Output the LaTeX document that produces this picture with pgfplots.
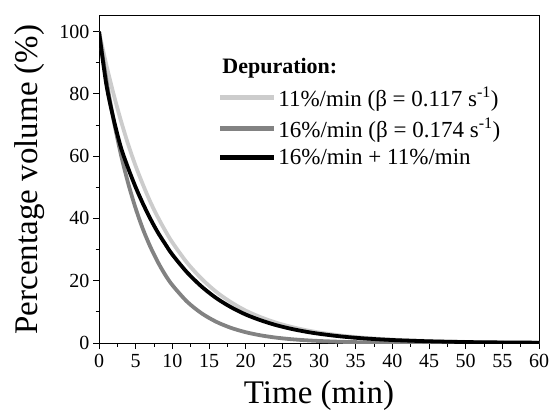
\documentclass[border=0pt]{standalone}
\usepackage{fontspec}
\setmainfont{Liberation Serif}
\usepackage{pgfplots}
\pgfplotsset{compat=1.18}
\definecolor{lightg}{RGB}{204,204,204}
\definecolor{darkg}{RGB}{130,130,130}

\begin{document}
\begin{tikzpicture}
\begin{axis}[
  name=ax,
  scale only axis,
  width=440pt, height=327pt,
  xmin=0, xmax=60, ymin=0, ymax=105,
  xtick={0,5,...,60},
  ytick={0,20,...,100},
  minor x tick num=1,
  minor y tick num=1,
  tick align=outside,
  xtick pos=bottom, ytick pos=left,
  major tick length=6pt, minor tick length=3.5pt,
  every tick/.style={black, line width=0.8pt},
  axis line style={line width=1pt},
  ticklabel style={font=\fontsize{20}{22}\selectfont},
  xticklabel style={yshift=-2pt},
  /pgf/number format/assume math mode=true,
  xlabel={Time (min)},
  ylabel={Percentage volume (\%)},
  label style={font=\fontsize{33}{36}\selectfont},
  xlabel style={yshift=-6pt},
  ylabel style={yshift=8pt},
  legend style={draw=none, fill=none, at={(rel axis cs:0.270,0.790)}, anchor=north west,
    font=\fontsize{23}{25}\selectfont, row sep=6pt, inner sep=0pt},
  legend cell align=left,
  legend image code/.code={\draw[#1, line width=4.4pt] (0pt,0pt) -- (54pt,0pt);},
]
% 11%/min
\addplot[lightg, line width=3.8pt, smooth] coordinates {
(0,100) (1,89.3) (2,79.8) (3,71.3) (4,63.6) (5,56.8) (6,50.8) (7,45.3) (8,40.5) (9,36.2)
(10,32.3) (12,25.8) (14,20.6) (16,16.4) (18,13.1) (20,10.4) (22,8.33) (24,6.64) (26,5.30)
(28,4.23) (30,3.37) (33,2.40) (36,1.71) (40,1.09) (45,0.62) (50,0.35) (55,0.20) (60,0.11)
};
\addlegendentry{11\%/min (β = 0.117 s\textsuperscript{-1})}
% 16%/min
\addplot[darkg, line width=3.8pt, smooth] coordinates {
(0,100) (1,84.5) (2,71.5) (3,60.4) (4,51.1) (5,43.2) (6,36.5) (7,30.9) (8,26.1) (9,22.0)
(10,18.6) (12,13.3) (14,9.52) (16,6.80) (18,4.86) (20,3.47) (22,2.48) (24,1.77) (26,1.27)
(28,0.91) (30,0.65) (33,0.39) (36,0.24) (40,0.12) (45,0.05) (50,0.02) (55,0.01) (60,0.0)
};
\addlegendentry{16\%/min (β = 0.174 s\textsuperscript{-1})}
% 16%/min + 11%/min
\addplot[black, line width=3.8pt, smooth] coordinates {
(0,100) (1,83.0) (2,71.8) (3,62.7) (4,56.0) (5,50.0) (6,44.7) (7,39.9) (8,35.6) (9,31.9)
(10,28.4) (12,22.7) (14,18.1) (16,14.4) (18,11.5) (20,9.15) (22,7.33) (24,5.84) (26,4.66)
(28,3.72) (30,2.97) (33,2.11) (36,1.50) (40,0.96) (45,0.55) (50,0.31) (55,0.18) (60,0.10)
};
\addlegendentry{16\%/min + 11\%/min}
\node[anchor=west, inner sep=0pt, font=\bfseries\fontsize{22}{24}\selectfont]
  at (rel axis cs:0.28,0.841) {Depuration:};
\end{axis}
\pgfresetboundingbox
\path ([shift={(-99pt,-69pt)}]ax.south west) rectangle ([shift={(12pt,16pt)}]ax.north east);
\end{tikzpicture}
\end{document}
